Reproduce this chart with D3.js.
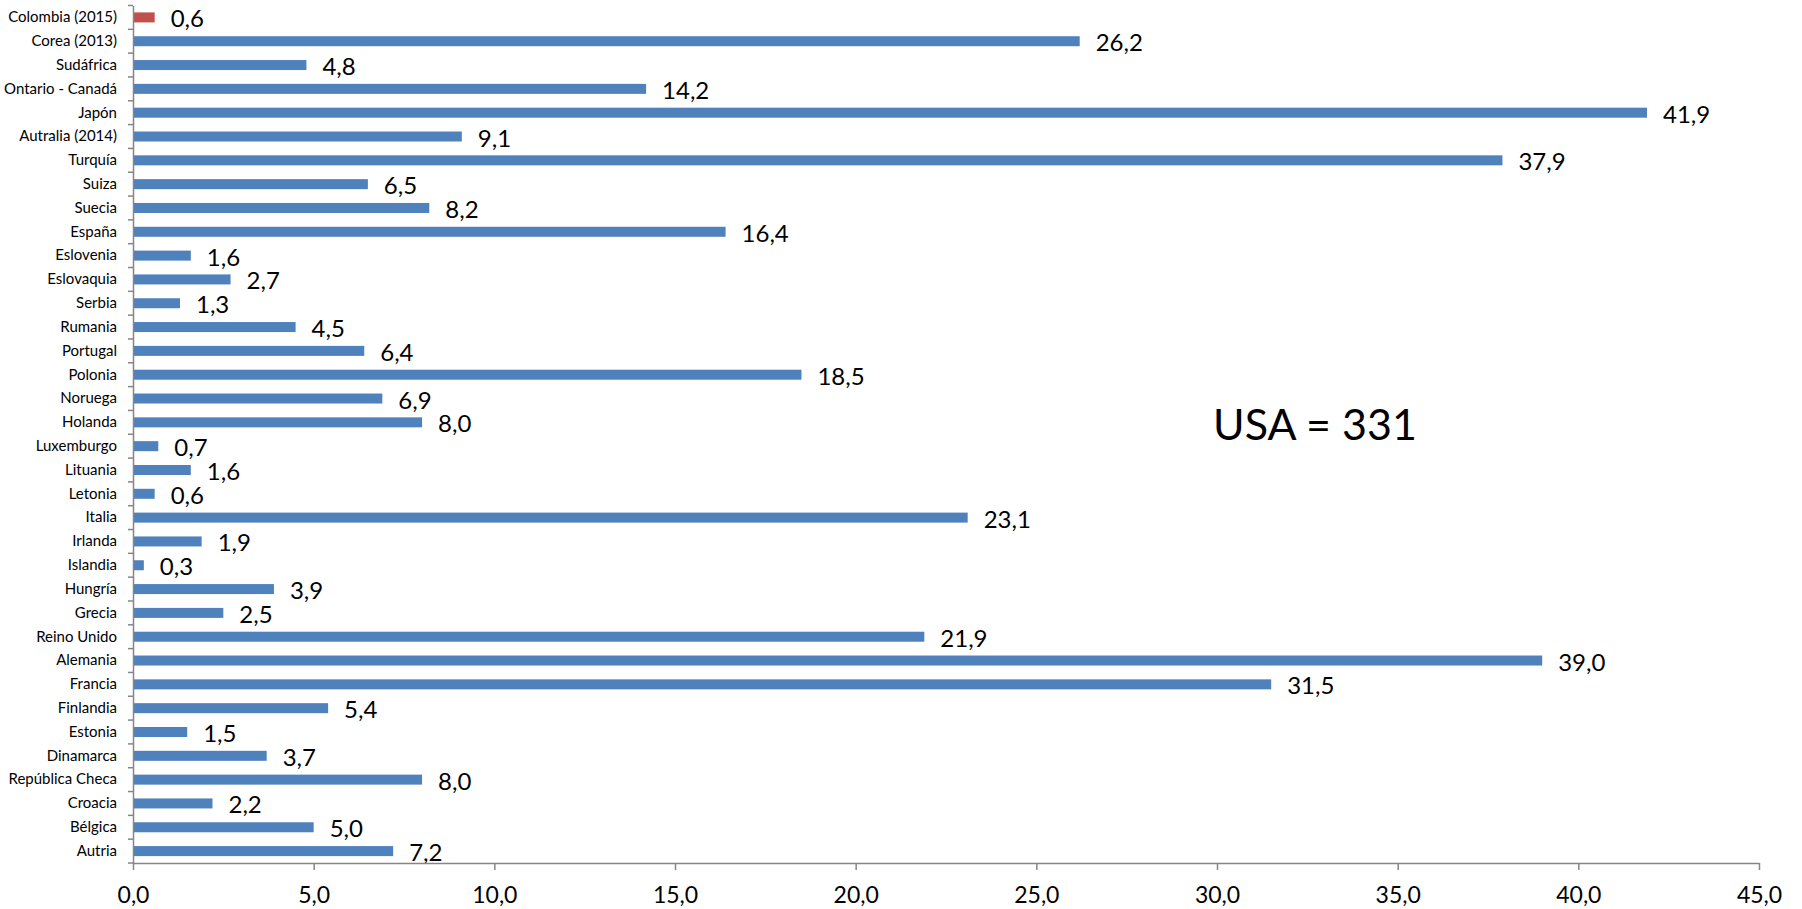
<!DOCTYPE html>
<html><head><meta charset="utf-8">
<script src="https://cdn.jsdelivr.net/npm/d3@7"></script>
<style>body{margin:0;background:#fff;}svg{display:block;}</style>
</head><body>
<svg id="chart" width="1802" height="909"></svg>
<script>
const categories = ["Colombia (2015)","Corea (2013)","Sudáfrica","Ontario - Canadá","Japón","Autralia (2014)","Turquía","Suiza","Suecia","España","Eslovenia","Eslovaquia","Serbia","Rumania","Portugal","Polonia","Noruega","Holanda","Luxemburgo","Lituania","Letonia","Italia","Irlanda","Islandia","Hungría","Grecia","Reino Unido","Alemania","Francia","Finlandia","Estonia","Dinamarca","República Checa","Croacia","Bélgica","Autria"];
const values = [0.6,26.2,4.8,14.2,41.9,9.1,37.9,6.5,8.2,16.4,1.6,2.7,1.3,4.5,6.4,18.5,6.9,8.0,0.7,1.6,0.6,23.1,1.9,0.3,3.9,2.5,21.9,39.0,31.5,5.4,1.5,3.7,8.0,2.2,5.0,7.2];
const highlighted = ["Colombia (2015)"];
const xTicks = [0,5,10,15,20,25,30,35,40,45];
const annotation = "USA = 331";

const font = "Lato, 'Open Sans', sans-serif";
const fmt = v => v.toFixed(1).replace(".", ",");
const svg = d3.select("#chart");
const x = d3.scaleLinear().domain([0,45]).range([133,1759]);
const y = d3.scaleBand().domain(categories).range([5.5,863]).paddingInner(0.58).paddingOuter(0.29);
const axisColor = "#868686";

// bars
svg.append("g").selectAll("rect").data(categories).join("rect")
  .attr("x", x(0))
  .attr("y", d => y(d))
  .attr("width", (d,i) => x(values[i]) - x(0))
  .attr("height", y.bandwidth())
  .attr("fill", d => highlighted.includes(d) ? "#C0504D" : "#4F81BD");

// value labels
svg.append("g").selectAll("text").data(categories).join("text")
  .attr("x", (d,i) => x(values[i]) + 16)
  .attr("y", d => y(d) + y.bandwidth()/2 + 10)
  .attr("font-family", font).attr("font-size", 24).attr("fill", "#000")
  .text((d,i) => fmt(values[i]));

// y axis
const yAxis = d3.axisLeft(y).tickSize(0).tickPadding(16);
const gy = svg.append("g").attr("transform", `translate(${x(0)},0)`).call(yAxis);
gy.select(".domain").attr("stroke", axisColor).attr("stroke-width", 1.5);
gy.selectAll("text").attr("font-family", font).attr("font-size", 15).attr("fill", "#000");
// category boundary ticks
const step = y.step();
const bounds = d3.range(categories.length + 1).map(i => 5.5 + i * step);
svg.append("g").selectAll("line").data(bounds).join("line")
  .attr("x1", x(0) - 5).attr("x2", x(0))
  .attr("y1", d => d).attr("y2", d => d)
  .attr("stroke", axisColor).attr("stroke-width", 1.5);

// x axis
const xAxis = d3.axisBottom(x).tickValues(xTicks).tickSize(7).tickPadding(17).tickFormat(fmt).tickSizeOuter(0);
const gx = svg.append("g").attr("transform", `translate(0,863)`).call(xAxis);
gx.select(".domain").attr("stroke", axisColor).attr("stroke-width", 1.5);
gx.selectAll(".tick line").attr("stroke", axisColor).attr("stroke-width", 1.5);
gx.selectAll("text").attr("font-family", font).attr("font-size", 23).attr("fill", "#000");

// annotation
svg.append("text").attr("x", 1213).attr("y", 440)
  .attr("font-family", font).attr("font-size", 43).attr("fill", "#000")
  .text(annotation);
</script>
</body></html>
